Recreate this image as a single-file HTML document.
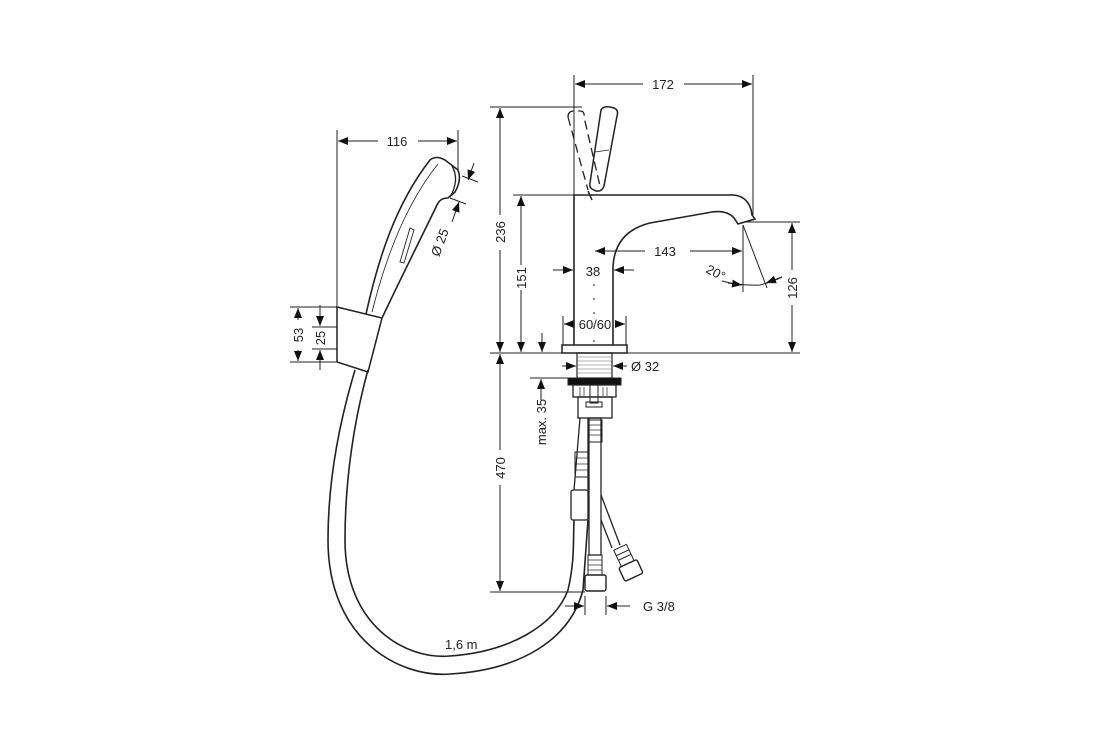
<!DOCTYPE html>
<html><head><meta charset="utf-8"><style>
html,body{margin:0;padding:0;background:#fff}
svg{display:block}
text{font-family:"Liberation Sans",sans-serif;font-size:13px;fill:#222}
</style></head><body>
<svg width="1120" height="750" viewBox="0 0 1120 750" xmlns="http://www.w3.org/2000/svg">
<defs>
<marker id="a" viewBox="0 0 10 10" refX="10" refY="5" markerWidth="10" markerHeight="10" markerUnits="userSpaceOnUse" orient="auto-start-reverse"><path d="M0,1 L10,5 L0,9z" fill="#111"/></marker>
</defs>
<g stroke="#222" stroke-width="1" fill="none">
<line x1="574" y1="75" x2="574" y2="195"/>
<line x1="753" y1="75" x2="753" y2="215"/>
<line x1="575" y1="84" x2="643" y2="84" marker-start="url(#a)"/>
<line x1="684" y1="84" x2="752" y2="84" marker-end="url(#a)"/>
<line x1="490" y1="107" x2="582" y2="107"/>
<line x1="500" y1="108" x2="500" y2="215" marker-start="url(#a)"/>
<line x1="500" y1="250" x2="500" y2="352" marker-end="url(#a)"/>
<line x1="513" y1="195" x2="574" y2="195"/>
<line x1="521" y1="196" x2="521" y2="265" marker-start="url(#a)"/>
<line x1="521" y1="290" x2="521" y2="352" marker-end="url(#a)"/>
<line x1="542" y1="333" x2="542" y2="352" marker-end="url(#a)"/>
<line x1="490" y1="353" x2="800" y2="353"/>
<line x1="745" y1="222" x2="800" y2="222"/>
<line x1="792" y1="223" x2="792" y2="270" marker-start="url(#a)"/>
<line x1="792" y1="305" x2="792" y2="352" marker-end="url(#a)"/>
<line x1="595" y1="251" x2="645" y2="251" marker-start="url(#a)"/>
<line x1="690" y1="251" x2="742" y2="251" marker-end="url(#a)"/>
<line x1="743" y1="225" x2="743" y2="292"/>
<line x1="743" y1="225" x2="767" y2="288"/>
<path d="M722,281 Q740,286 760,285 Q772,282 782,277"/>
<line x1="728" y1="283" x2="742" y2="285" marker-end="url(#a)"/>
<line x1="782" y1="277" x2="766" y2="283" marker-end="url(#a)"/>
<line x1="553" y1="270" x2="573" y2="270" marker-end="url(#a)"/>
<line x1="634" y1="270" x2="614" y2="270" marker-end="url(#a)"/>
<line x1="594" y1="284" x2="594" y2="345" stroke-dasharray="2,12"/>
<line x1="563" y1="316" x2="563" y2="345"/>
<line x1="626" y1="316" x2="626" y2="345"/>
<line x1="572" y1="324" x2="564" y2="324" marker-end="url(#a)"/>
<line x1="617" y1="324" x2="625" y2="324" marker-end="url(#a)"/>
<!-- handles -->
<path d="M601,110 Q603,106 610,107 L614,108 Q619,110 617,116 L604,186 Q602,192 596,191 L592,189 Q589,187 590,183 Z" stroke-width="1.5"/>
<line x1="595" y1="152" x2="609" y2="150" stroke-width="0.8"/>
<path d="M568,117 Q568,111 574,111 L580,111 Q585,111 584,117 L600,186 M568,117 L588,190" stroke-dasharray="9,5" stroke-width="1.3"/>
<line x1="588" y1="191" x2="592" y2="200" stroke-width="1.5"/>
<!-- body -->
<path d="M574,345 L574,195 L734,195 Q750,197 752,215 L755,219 L738,224 L734,218 Q727,210 712,212 L650,223 Q614,232 613,268 L613,345" stroke-width="1.6"/>
<rect x="562" y="345" width="65" height="8" stroke-width="1.5"/>
<rect x="577" y="353" width="35" height="25" stroke-width="1.2"/>
<g stroke-width="0.5" stroke="#666">
<line x1="577" y1="357" x2="612" y2="357"/><line x1="577" y1="361" x2="612" y2="361"/><line x1="577" y1="365" x2="612" y2="365"/><line x1="577" y1="369" x2="612" y2="369"/><line x1="577" y1="373" x2="612" y2="373"/>
</g>
<line x1="562" y1="366" x2="576" y2="366" marker-end="url(#a)"/>
<line x1="627" y1="366" x2="613" y2="366" marker-end="url(#a)"/>
<rect x="568" y="378" width="53" height="7" fill="#111"/>
<rect x="573" y="385" width="43" height="12" stroke-width="1.3"/>
<g stroke-width="0.7"><line x1="580" y1="387" x2="580" y2="396"/><line x1="584" y1="387" x2="584" y2="396"/><line x1="603" y1="387" x2="603" y2="396"/><line x1="607" y1="387" x2="607" y2="396"/></g>
<rect x="590" y="385" width="8" height="18"/>
<rect x="586" y="402" width="16" height="5"/>
<rect x="578" y="397" width="34" height="21" stroke-width="1.3"/>
<line x1="530" y1="378" x2="568" y2="378"/>
<line x1="541" y1="379" x2="541" y2="400" marker-start="url(#a)"/>
<line x1="500" y1="354" x2="500" y2="450" marker-start="url(#a)"/>
<line x1="500" y1="485" x2="500" y2="591" marker-end="url(#a)"/>
<line x1="490" y1="592" x2="585" y2="592"/>
<rect x="589" y="418" width="12" height="137" stroke-width="1.3"/>
<rect x="588" y="420" width="14" height="22"/>
<rect x="588" y="555" width="14" height="20"/>
<g stroke-width="0.7"><line x1="588" y1="425" x2="602" y2="425"/><line x1="588" y1="430" x2="602" y2="430"/><line x1="588" y1="435" x2="602" y2="435"/><line x1="588" y1="560" x2="602" y2="560"/><line x1="588" y1="565" x2="602" y2="565"/><line x1="588" y1="570" x2="602" y2="570"/></g>
<rect x="585" y="575" width="21" height="16" rx="2" stroke-width="1.4"/>
<line x1="601" y1="495" x2="620" y2="545" stroke-width="1.3"/>
<line x1="601" y1="520" x2="612" y2="548" stroke-width="1.3"/>
<g transform="translate(626,560) rotate(-25)">
<rect x="-7" y="-14" width="14" height="18"/>
<line x1="-7" y1="-8" x2="7" y2="-8"/><line x1="-7" y1="-3" x2="7" y2="-3"/>
<rect x="-10" y="4" width="20" height="15" rx="2" stroke-width="1.4"/>
</g>
<path d="M580,418 L574,490 M588,418 L588,490" stroke-width="1.3"/>
<rect x="575" y="452" width="13" height="25"/>
<g stroke-width="0.7"><line x1="575" y1="458" x2="588" y2="458"/><line x1="575" y1="464" x2="588" y2="464"/><line x1="575" y1="470" x2="588" y2="470"/></g>
<rect x="571" y="490" width="17" height="30" rx="2" stroke-width="1.3"/>
<path d="M355,370 C340,420 328,480 328,540 C328,640 400,678 450,674 C520,670 570,640 583,590 L588,520" stroke-width="1.6"/>
<path d="M368,370 C354,420 345,480 345,540 C345,625 405,660 450,656 C510,652 555,625 568,590 C575,560 573,540 574,520" stroke-width="1.6"/>
<line x1="585" y1="596" x2="585" y2="615"/>
<line x1="606" y1="596" x2="606" y2="615"/>
<line x1="565" y1="606" x2="584" y2="606" marker-end="url(#a)"/>
<line x1="630" y1="606" x2="607" y2="606" marker-end="url(#a)"/>
<path d="M337,307 L337,362 L368,372 L382,318 Z" stroke-width="1.5"/>
<path d="M366,314 C378,260 395,205 430,160 Q436,155 445,160 L458,170 Q462,180 455,192 L448,198 Q440,198 437,205 C420,240 400,280 382,318" stroke-width="1.6"/>
<path d="M372,312 C385,260 405,205 438,164" stroke-width="0.8"/>
<path d="M452,166 Q460,180 450,197" stroke-width="1.3"/>
<path d="M400,262 L410,228 L414,230 L404,263 Z" stroke-width="0.9"/>
<line x1="337" y1="130" x2="337" y2="307"/>
<line x1="458" y1="130" x2="458" y2="172"/>
<line x1="338" y1="141" x2="378" y2="141" marker-start="url(#a)"/>
<line x1="418" y1="141" x2="457" y2="141" marker-end="url(#a)"/>
<line x1="462" y1="176" x2="478" y2="182"/>
<line x1="450" y1="198" x2="466" y2="204"/>
<line x1="474" y1="163" x2="468" y2="180" marker-end="url(#a)"/>
<line x1="452" y1="222" x2="459" y2="202" marker-end="url(#a)"/>
<line x1="290" y1="307" x2="337" y2="307"/>
<line x1="290" y1="362" x2="337" y2="362"/>
<line x1="312" y1="327" x2="337" y2="327"/>
<line x1="312" y1="349" x2="337" y2="349"/>
<line x1="298" y1="308" x2="298" y2="320" marker-start="url(#a)"/>
<line x1="298" y1="350" x2="298" y2="361" marker-end="url(#a)"/>
<line x1="320" y1="305" x2="320" y2="326" marker-end="url(#a)"/>
<line x1="320" y1="370" x2="320" y2="350" marker-end="url(#a)"/>
</g>
<text x="663" y="89" text-anchor="middle">172</text>
<text x="665" y="256" text-anchor="middle">143</text>
<text x="593" y="276" text-anchor="middle">38</text>
<text x="595" y="329" text-anchor="middle">60/60</text>
<text x="631" y="371">Ø 32</text>
<text x="643" y="611">G 3/8</text>
<text x="445" y="649">1,6 m</text>
<text x="397" y="146" text-anchor="middle">116</text>
<text transform="translate(705,272) rotate(28)">20°</text>
<text transform="translate(505,232) rotate(-90)" text-anchor="middle">236</text>
<text transform="translate(526,278) rotate(-90)" text-anchor="middle">151</text>
<text transform="translate(797,288) rotate(-90)" text-anchor="middle">126</text>
<text transform="translate(505,468) rotate(-90)" text-anchor="middle">470</text>
<text transform="translate(546,422) rotate(-90)" text-anchor="middle">max. 35</text>
<text transform="translate(303,335) rotate(-90)" text-anchor="middle">53</text>
<text transform="translate(325,338) rotate(-90)" text-anchor="middle">25</text>
<text transform="translate(444,244) rotate(-70)" text-anchor="middle">Ø 25</text>
</svg>
</body></html>
